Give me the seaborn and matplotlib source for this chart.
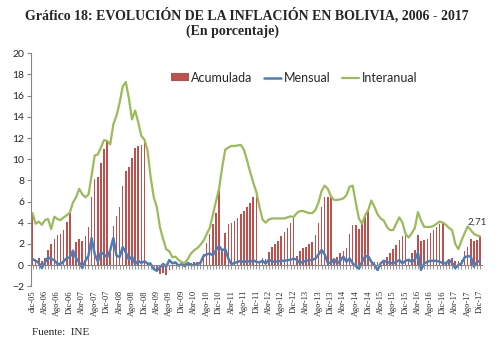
import matplotlib
matplotlib.use("Agg")
import matplotlib.pyplot as plt
import seaborn as sns
import numpy as np
import pandas as pd

# ---------------- data (dic-05 ... Dic-17, monthly) ----------------
acumulada = [4.91,
    0.45, 0.65, 0.4, 0.65, 1.4, 2.0, 2.5, 2.8, 2.9, 3.35, 4.1, 4.95,
    1.36, 2.2, 2.5, 2.3, 2.7, 3.6, 6.4, 8.1, 8.3, 9.65, 11.0, 11.73,
    1.3, 3.7, 4.6, 5.45, 7.5, 8.85, 9.3, 10.1, 11.05, 11.2, 11.35, 11.85,
    0.15, 0.25, -0.1, -0.6, -0.85, -0.75, -0.9, -0.45, -0.3, -0.05, 0.05, 0.26,
    0.2, 0.2, 0.2, 0.25, 0.3, 0.35, 1.0, 2.05, 2.9, 3.9, 4.9, 7.18,
    1.5, 3.0, 3.9, 4.0, 4.15, 4.4, 4.8, 5.1, 5.5, 5.9, 6.4, 6.9,
    0.3, 0.65, 0.6, 1.25, 1.7, 1.95, 2.3, 2.7, 3.15, 3.5, 3.95, 4.54,
    0.9, 1.3, 1.6, 1.7, 2.0, 2.2, 2.8, 4.0, 5.5, 6.4, 6.45, 6.48,
    0.55, 0.8, 1.1, 1.3, 1.6, 2.9, 3.8, 3.8, 3.4, 3.9, 4.5, 5.19,
    0.35, 0.3, 0.3, -0.15, 0.3, 0.8, 1.1, 1.5, 1.9, 2.35, 2.75, 2.95,
    0.5, 1.1, 1.4, 2.8, 2.3, 2.35, 2.5, 3.0, 3.3, 3.6, 3.9, 4.0,
    0.2, 0.6, 0.7, 0.4, 0.4, 0.5, 1.3, 1.7, 2.5, 2.3, 2.4, 2.71]

mensual = [0.57,
    0.4, 0.2, -0.28, 0.25, 0.73, 0.57, 0.47, 0.1, 0.1, 0.35, 0.66, 0.73,
    1.36, 0.66, 0.25, -0.28, 0.4, 0.88, 2.55, 1.04, 0.35, 1.2, 1.0, 0.73,
    1.4, 2.55, 0.9, 0.75, 1.7, 1.2, 0.5, 0.8, 0.1, 0.4, 0.2, 0.35,
    0.15, 0.1, -0.38, -0.54, -0.22, 0.1, -0.16, 0.47, 0.16, 0.25, -0.06, 0.1,
    -0.1, 0.2, 0.0, 0.0, 0.1, 0.2, 0.85, 1.0, 1.1, 0.9, 1.4, 1.8,
    1.4, 1.5, 0.6, 0.1, 0.2, 0.3, 0.4, 0.25, 0.4, 0.3, 0.45, 0.3,
    0.25, 0.4, 0.15, 0.5, 0.35, 0.3, 0.35, 0.4, 0.4, 0.45, 0.5, 0.6,
    0.5, 0.2, 0.3, 0.4, 0.45, 0.5, 0.6, 1.0, 1.42, 1.0, 0.2, 0.2,
    0.55, 0.16, 0.4, 0.8, 0.3, 0.63, 0.16, -0.1, -0.35, 0.3, 0.8, 0.85,
    0.3, 0.0, -0.47, 0.16, 0.4, 0.3, 0.2, 0.16, 0.3, 0.47, 0.16, 0.4,
    0.5, 0.3, 0.5, 1.15, -0.45, 0.15, 0.3, 0.4, 0.4, 0.4, 0.3, 0.2,
    0.16, 0.45, 0.2, -0.3, 0.0, 0.16, 0.72, 0.85, 0.8, -0.15, 0.3, 0.4]

interanual = [4.91,
    3.9, 4.1, 3.8, 4.25, 4.35, 3.4, 4.57, 4.35, 4.25, 4.5, 4.7, 4.95,
    5.9, 6.4, 7.2, 6.7, 6.4, 6.65, 8.45, 10.35, 10.45, 11.1, 11.8, 11.73,
    11.4, 13.3, 14.1, 15.3, 16.85, 17.3, 15.75, 13.75, 14.6, 13.5, 12.2, 11.85,
    10.8, 8.3, 6.4, 5.45, 3.56, 2.46, 1.5, 1.3, 0.73, 0.79, 0.47, 0.26,
    0.2, 0.6, 1.1, 1.4, 1.6, 1.9, 2.3, 2.9, 3.5, 4.7, 6.0, 7.18,
    9.2, 10.9, 11.1, 11.25, 11.25, 11.3, 11.35, 10.9, 9.9, 8.8, 7.8, 6.9,
    5.5, 4.3, 4.0, 4.3, 4.4, 4.4, 4.4, 4.4, 4.4, 4.5, 4.6, 4.54,
    4.9, 5.1, 5.1, 5.0, 4.9, 4.9, 5.2, 5.9, 7.0, 7.5, 7.2, 6.48,
    6.15, 6.15, 6.2, 6.3, 6.6, 7.4, 7.5, 5.9, 4.4, 3.9, 4.7, 5.19,
    6.1, 5.5, 4.8, 4.4, 4.2, 3.6, 3.3, 3.3, 3.9, 4.5, 4.0, 2.95,
    2.6, 3.0, 3.5, 5.0, 4.2, 3.6, 3.6, 3.6, 3.7, 3.9, 4.1, 4.0,
    3.8, 3.5, 3.3, 2.0, 1.5, 2.3, 3.0, 3.65, 3.3, 2.95, 2.8, 2.71]

tick_labels = ["dic-05",
    "Abr-06", "Ago-06", "Dic-06", "Abr-07", "Ago-07", "Dic-07",
    "Abr-08", "Ago-08", "Dic-08", "Abr-09", "Ago-09", "Dic-09",
    "Abr-10", "Ago-10", "Dic-10", "Abr-11", "Ago-11", "Dic-11",
    "Abr-12", "Ago-12", "Dic-12", "Abr-13", "Ago-13", "Dic-13",
    "Abr-14", "Ago-14", "Dic-14", "Abr-15", "Ago-15", "Dic-15",
    "Abr-16", "Ago-16", "Dic-16", "Abr-17", "Ago-17", "Dic-17"]

last_label = "2,71"

# ---------------- figure ----------------
sns.set_style("white")
plt.rcParams["font.family"] = ["Lato", "DejaVu Sans"]

n = len(acumulada)
df = pd.DataFrame({"mes": np.arange(n), "Acumulada": acumulada,
                   "Mensual": mensual, "Interanual": interanual})

fig = plt.figure(figsize=(5.03, 3.44), dpi=100)
ax = fig.add_axes([0.0616, 0.168, 0.896, 0.677])

sns.barplot(data=df, x="mes", y="Acumulada", native_scale=True, color="#C0504D",
            saturation=1, width=0.5, ax=ax, label="Acumulada", linewidth=0)
sns.lineplot(data=df, x="mes", y="Mensual", color="#4A7EBB", linewidth=1.8,
             ax=ax, label="Mensual")
sns.lineplot(data=df, x="mes", y="Interanual", color="#9BBB59", linewidth=1.6,
             ax=ax, label="Interanual")

ax.set_xlim(-0.5, n - 0.5)
ax.set_ylim(-2, 20)
ax.set_xlabel("")
ax.set_ylabel("")

gray = "#868686"
for s in ["top", "right"]:
    ax.spines[s].set_visible(False)
ax.spines["left"].set_color(gray)
ax.spines["left"].set_linewidth(0.8)
ax.spines["bottom"].set_position(("data", 0))
ax.spines["bottom"].set_color(gray)
ax.spines["bottom"].set_linewidth(0.8)

ax.set_yticks(np.arange(-2, 21, 2))
ax.tick_params(axis="y", direction="out", length=3, color=gray, width=0.8,
               labelsize=7.5, pad=2, left=True)

ax.set_xticks(np.arange(0, n, 4))
ax.set_xticks(np.arange(0, n, 1), minor=True)
ax.set_xticklabels(tick_labels, rotation=90, fontsize=6,
                   fontfamily=["Liberation Serif", "DejaVu Serif"])
ax.tick_params(axis="x", which="both", direction="out", length=3, color=gray,
               width=0.6, bottom=True)
ax.tick_params(axis="x", which="major", pad=15)

handles, labels = ax.get_legend_handles_labels()
order = ["Acumulada", "Mensual", "Interanual"]
hmap = dict(zip(labels, handles))
ax.legend([hmap[k] for k in order], order, loc="center left",
          bbox_to_anchor=(0.340, 0.774), bbox_transform=fig.transFigure,
          ncol=3, frameon=False, fontsize=9, handlelength=1.4,
          handletextpad=0.2, columnspacing=0.9, borderaxespad=0,
          borderpad=0, handleheight=0.6)

ax.annotate(last_label, xy=(n - 1, interanual[-1]), xytext=(-2, 10),
            textcoords="offset points", ha="center", va="center",
            fontsize=7, color="#333333")

fig.text(0.491, 0.956, "Gráfico 18: EVOLUCIÓN DE LA INFLACIÓN EN BOLIVIA, 2006 - 2017",
         ha="center", va="center", fontsize=10, fontweight="bold",
         fontfamily=["Liberation Serif", "DejaVu Serif"])
fig.text(0.462, 0.910, "(En porcentaje)", ha="center", va="center",
         fontsize=10, fontweight="bold",
         fontfamily=["Liberation Serif", "DejaVu Serif"])
fig.text(0.064, 0.032, "Fuente:  INE", ha="left", va="center", fontsize=8,
         fontfamily=["Liberation Serif", "DejaVu Serif"])

fig.savefig("out.png", dpi=100)
